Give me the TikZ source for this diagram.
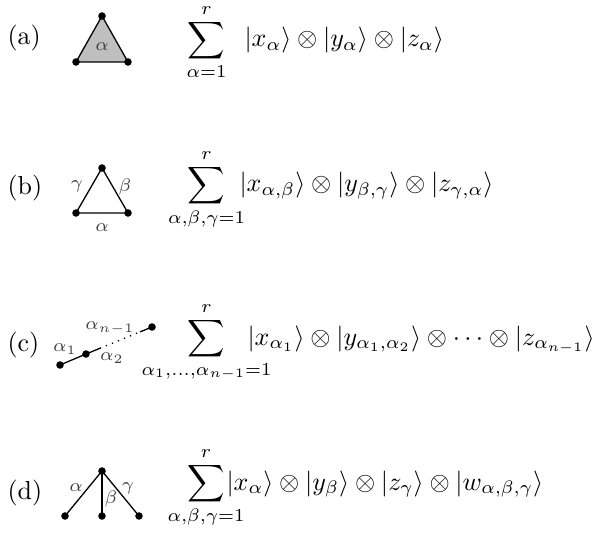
\documentclass[tikz,border=0pt]{standalone}
\usepackage{mathtools}
\usetikzlibrary{calc}
\begin{document}
\begin{tikzpicture}[x=0.385pt,y=-0.385pt,
  vdot/.style={circle,fill=black,inner sep=0pt,minimum size=2.9pt},
  edge/.style={line width=0.5pt},
  elabel/.style={font=\scriptsize,text=black!75,inner sep=0pt},
  tag/.style={anchor=base west,inner sep=0pt},
  sumop/.style={anchor=base,inner sep=0pt},
  kets/.style={anchor=base west,inner sep=0pt}]
\useasboundingbox (0,0) rectangle (600,535);
% ---------- (a)
\node[tag] (la) at (7,45) {(a)};
\coordinate (a1) at (102,16);
\coordinate (a2) at (76,62);
\coordinate (a3) at (128,62);
\filldraw[edge,fill=black!25] (a1) -- (a2) -- (a3) -- cycle;
\node[vdot] (da1) at (a1) {};
\node[vdot] (da2) at (a2) {};
\node[vdot] (da3) at (a3) {};
\node[elabel] (ea) at (102,47) {$\alpha$};
\node[sumop] (sa) at (206.5,47) {$\displaystyle\sum_{\mathclap{\alpha=1}}^{r}$};
\node[kets] (ka) at (244,47) {$|x_\alpha\rangle \otimes |y_\alpha\rangle \otimes |z_\alpha\rangle$};
% ---------- (b)
\node[tag] (lb) at (7,195) {(b)};
\node[vdot] (b1) at (102,168) {};
\node[vdot] (b2) at (76,213) {};
\node[vdot] (b3) at (128,213) {};
\draw[edge] (b1.center) -- (b2.center) -- (b3.center) -- cycle;
\node[elabel] (gb) at (77,186) {$\gamma$};
\node[elabel] (bb) at (125,187) {$\beta$};
\node[elabel] (ab) at (102,228) {$\alpha$};
\node[sumop] (sb) at (206.5,192) {$\displaystyle\sum_{\mathclap{\alpha,\beta,\gamma=1}}^{r}$};
\node[kets] (kb) at (239,192) {$|x_{\alpha,\beta}\rangle \otimes |y_{\beta,\gamma}\rangle \otimes |z_{\gamma,\alpha}\rangle$};
% ---------- (c)
\node[tag] (lc) at (7,351) {(c)};
\node[vdot] (c1) at (60,365) {};
\node[vdot] (c2) at (86,354) {};
\node[vdot] (c3) at (152,327) {};
\coordinate (p1) at ($(c2)!0.21!(c3)$);
\coordinate (p2) at ($(c2)!0.82!(c3)$);
\draw[edge] (c1.center) -- (c2.center) -- (p1);
\draw[edge,dotted] (p1) -- (p2);
\draw[edge] (p2) -- (c3.center);
\node[elabel] (e1) at (65,349) {$\alpha_1$};
\node[elabel] (e2) at (112,358) {$\alpha_2$};
\node[elabel] (e3) at (110,328) {$\alpha_{n-1}$};
\node[sumop] (sc) at (206.5,345) {$\displaystyle\sum_{\mathclap{\alpha_1,\ldots,\alpha_{n-1}=1}}^{r}$};
\node[kets] (kc) at (247,345) {$|x_{\alpha_1}\rangle \otimes |y_{\alpha_1,\alpha_2}\rangle \otimes \cdots \otimes |z_{\alpha_{n-1}}\rangle$};
% ---------- (d)
\node[tag] (ld) at (7,499) {(d)};
\node[vdot] (d0) at (102,471) {};
\node[vdot] (d1) at (65,516) {};
\node[vdot] (d2) at (102,516) {};
\node[vdot] (d3) at (139,516) {};
\draw[edge] (d0.center) -- (d1.center);
\draw[edge] (d0.center) -- (d2.center);
\draw[edge] (d0.center) -- (d3.center);
\node[elabel] (ad) at (76,488) {$\alpha$};
\node[elabel] (bd) at (111,499) {$\beta$};
\node[elabel] (gd) at (128,488) {$\gamma$};
\node[sumop] (sd) at (206,490) {$\displaystyle\sum_{\mathclap{\alpha,\beta,\gamma=1}}^{r}$};
\node[kets] (kd) at (226,490) {$|x_\alpha\rangle \otimes |y_\beta\rangle \otimes |z_\gamma\rangle \otimes |w_{\alpha,\beta,\gamma}\rangle$};
\end{tikzpicture}
\end{document}
